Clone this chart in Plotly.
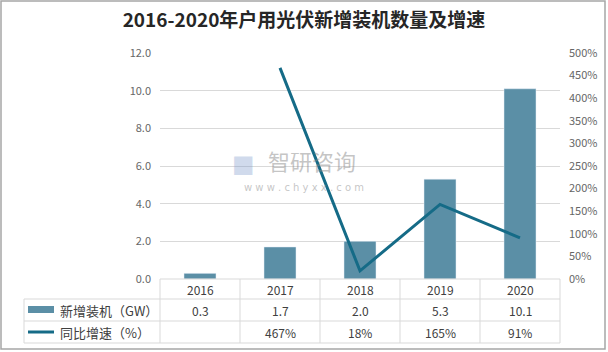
import plotly.graph_objects as go

years = ["2016", "2017", "2018", "2019", "2020"]
capacity = [0.3, 1.7, 2.0, 5.3, 10.1]
growth_years = ["2017", "2018", "2019", "2020"]
growth = [467, 18, 165, 91]
cap_labels = ["0.3", "1.7", "2.0", "5.3", "10.1"]
growth_labels = ["", "467%", "18%", "165%", "91%"]
title = "2016-2020年户用光伏新增装机数量及增速"
bar_name = "新增装机（GW）"
line_name = "同比增速（%）"

BAR_C = "#5b8fa6"
LINE_C = "#156b87"
GRID_C = "#d9d9d9"
FONT = "Noto Sans CJK SC"

L, R, T, B = 160, 560, 53, 279
W, H = 608, 352


def px(x):
    return (x - L) / (R - L)


def py(y):
    return (B - y) / (B - T)


fig = go.Figure()
fig.add_trace(go.Bar(x=years, y=capacity, name=bar_name, marker_color=BAR_C,
                     width=0.4, showlegend=False))
fig.add_trace(go.Scatter(x=growth_years, y=growth, name=line_name, yaxis="y2",
                         mode="lines", line=dict(color=LINE_C, width=3),
                         showlegend=False))

shapes = []
shapes.append(dict(type="rect", xref="paper", yref="paper",
                   x0=px(1), x1=px(605), y0=py(1), y1=py(349),
                   line=dict(color="#a6a6a6", width=1.5)))
for yy, x0 in [(279, 160), (299, 24), (321, 24), (343, 24)]:
    shapes.append(dict(type="line", xref="paper", yref="paper",
                       x0=px(x0), x1=px(560), y0=py(yy), y1=py(yy),
                       line=dict(color=GRID_C, width=1)))
for xx in [160, 240, 320, 400, 480, 560]:
    shapes.append(dict(type="line", xref="paper", yref="paper",
                       x0=px(xx), x1=px(xx), y0=py(279), y1=py(343),
                       line=dict(color=GRID_C, width=1)))
shapes.append(dict(type="line", xref="paper", yref="paper",
                   x0=px(24), x1=px(24), y0=py(299), y1=py(343),
                   line=dict(color=GRID_C, width=1)))
shapes.append(dict(type="rect", xref="paper", yref="paper",
                   x0=px(28), x1=px(54), y0=py(306), y1=py(313),
                   fillcolor=BAR_C, line=dict(width=0)))
shapes.append(dict(type="line", xref="paper", yref="paper",
                   x0=px(28), x1=px(54), y0=py(332), y1=py(332),
                   line=dict(color=LINE_C, width=3)))

ann = []
tfont = dict(family=FONT, size=12, color="#404040")
for i, yr in enumerate(years):
    ann.append(dict(x=i, y=py(289), xref="x", yref="paper", text=yr,
                    xanchor="center", yanchor="middle", showarrow=False, font=tfont))
    ann.append(dict(x=i, y=py(310), xref="x", yref="paper", text=cap_labels[i],
                    xanchor="center", yanchor="middle", showarrow=False, font=tfont))
    if growth_labels[i]:
        ann.append(dict(x=i, y=py(332), xref="x", yref="paper",
                        text=growth_labels[i], xanchor="center", yanchor="middle",
                        showarrow=False, font=tfont))
ann.append(dict(x=px(58), y=py(310), xref="paper", yref="paper", text=bar_name,
                xanchor="left", yanchor="middle", showarrow=False,
                font=dict(family=FONT, size=13, color="#404040")))
ann.append(dict(x=px(58), y=py(332), xref="paper", yref="paper", text=line_name,
                xanchor="left", yanchor="middle", showarrow=False,
                font=dict(family=FONT, size=13, color="#404040")))
# watermark
ann.append(dict(x=px(312), y=py(160), xref="paper", yref="paper", text="智研咨询",
                xanchor="center", yanchor="middle", showarrow=False,
                font=dict(family=FONT, size=22, color="rgba(140,140,140,0.5)")))
ann.append(dict(x=px(304), y=py(187), xref="paper", yref="paper",
                text="w w w . c h y x x . c o m", xanchor="center", yanchor="middle",
                showarrow=False,
                font=dict(family="DejaVu Sans", size=10, color="rgba(140,140,140,0.5)")))
ann.append(dict(x=px(243), y=py(164), xref="paper", yref="paper", text="■",
                xanchor="center", yanchor="middle", showarrow=False,
                font=dict(family="DejaVu Sans", size=24, color="rgba(120,150,200,0.35)")))

fig.update_layout(
    width=W, height=H,
    margin=dict(l=L, r=W - R, t=T, b=H - B, pad=0),
    paper_bgcolor="white", plot_bgcolor="white",
    title=dict(text="<b>" + title + "</b>", x=0.5, xanchor="center", y=1 - 20 / H,
               yanchor="middle", font=dict(family=FONT, size=19, color="#262626")),
    xaxis=dict(type="category", showticklabels=False, showgrid=False, zeroline=False,
               showline=False, ticks="", range=[-0.5, 4.5]),
    yaxis=dict(range=[0, 12], dtick=2, tickformat=".1f", showgrid=True, gridcolor=GRID_C,
               zeroline=False, showline=False, ticks="", ticklabelstandoff=8,
               tickfont=dict(family=FONT, size=11, color="#666666")),
    yaxis2=dict(range=[0, 500], dtick=50, ticksuffix="%", overlaying="y", side="right",
                showgrid=False, zeroline=False, showline=False, ticklabelstandoff=8,
                tickfont=dict(family=FONT, size=11, color="#666666")),
    shapes=shapes, annotations=ann, bargap=0.6,
)

fig.write_html("out.html")
